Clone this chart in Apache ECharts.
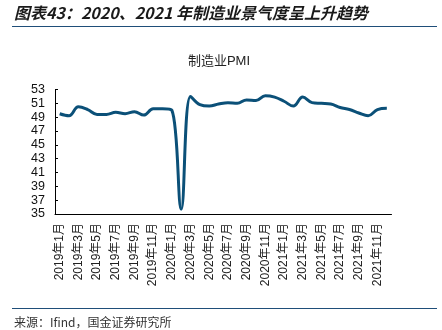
<!DOCTYPE html>
<html>
<head>
<meta charset="utf-8">
<script src="https://cdn.jsdelivr.net/npm/echarts@6/dist/echarts.min.js"></script>
<style>
  html, body { margin: 0; padding: 0; background: #fff; }
  #chart { width: 442px; height: 330px; }
</style>
</head>
<body>
<div id="chart"></div>
<script>
// Monthly categories, Jan 2019 – Dec 2021
const months = [
  '2019年1月','2019年2月','2019年3月','2019年4月','2019年5月','2019年6月',
  '2019年7月','2019年8月','2019年9月','2019年10月','2019年11月','2019年12月',
  '2020年1月','2020年2月','2020年3月','2020年4月','2020年5月','2020年6月',
  '2020年7月','2020年8月','2020年9月','2020年10月','2020年11月','2020年12月',
  '2021年1月','2021年2月','2021年3月','2021年4月','2021年5月','2021年6月',
  '2021年7月','2021年8月','2021年9月','2021年10月','2021年11月','2021年12月'
];

// Manufacturing PMI
const pmi = [
  49.5, 49.2, 50.5, 50.1, 49.4, 49.4, 49.7, 49.5, 49.8, 49.3, 50.2, 50.2,
  50.0, 35.7, 52.0, 50.8, 50.6, 50.9, 51.1, 51.0, 51.5, 51.4, 52.1, 51.9,
  51.3, 50.6, 51.9, 51.1, 51.0, 50.9, 50.4, 50.1, 49.6, 49.2, 50.1, 50.3
];

const yMin = 35, yMax = 53, yStep = 2;

const headText = '图表43：2020、2021 年制造业景气度呈上升趋势';
const chartTitle = '制造业PMI';
const sourceText = '来源：Ifind，国金证券研究所';

const latin = "'Liberation Sans', Arial, 'Noto Sans CJK SC', sans-serif";
const ruleColor = '#1f4e79';

const chart = echarts.init(document.getElementById('chart'), null, { renderer: 'canvas' });
chart.setOption({
  animation: false,
  title: {
    text: chartTitle,
    left: 214,
    top: 50,
    textAlign: 'center',
    textStyle: { fontSize: 13, fontWeight: 'normal', color: '#222', fontFamily: latin }
  },
  graphic: [
    {
      type: 'text', left: 14, top: 5,
      style: {
        text: headText,
        font: "italic bold 16px 'Noto Sans CJK SC', 'Liberation Sans', sans-serif",
        fill: '#1a1a1a'
      }
    },
    {
      type: 'line', shape: { x1: 12, y1: 26.5, x2: 437, y2: 26.5 },
      style: { stroke: ruleColor, lineWidth: 1.2 }
    },
    {
      type: 'line', shape: { x1: 12, y1: 308.5, x2: 437, y2: 308.5 },
      style: { stroke: ruleColor, lineWidth: 1.2 }
    },
    {
      type: 'text', left: 14, top: 316,
      style: {
        text: sourceText,
        font: "12px 'Noto Sans CJK SC', 'Liberation Sans', sans-serif",
        fill: '#333'
      }
    }
  ],
  grid: { left: 55, right: 50.5, top: 89.5, bottom: 116, containLabel: false },
  xAxis: {
    type: 'category',
    data: months,
    boundaryGap: true,
    axisLine: { lineStyle: { color: '#000', width: 1 } },
    axisTick: { inside: true, length: 3, interval: 1, lineStyle: { color: '#000' } },
    axisLabel: {
      interval: 1, rotate: 90, fontSize: 12, color: '#222', margin: 9,
      fontFamily: latin
    }
  },
  yAxis: {
    type: 'value',
    min: yMin, max: yMax, interval: yStep,
    axisLine: { show: true, lineStyle: { color: '#000', width: 1 } },
    axisTick: { show: true, inside: true, length: 3, lineStyle: { color: '#000' } },
    splitLine: { show: false },
    axisLabel: { fontSize: 12.5, color: '#111', margin: 10, fontFamily: latin }
  },
  series: [{
    type: 'line',
    data: pmi,
    smooth: 0.4,
    showSymbol: false,
    lineStyle: { color: '#0b5078', width: 3 }
  }]
});
</script>
</body>
</html>
